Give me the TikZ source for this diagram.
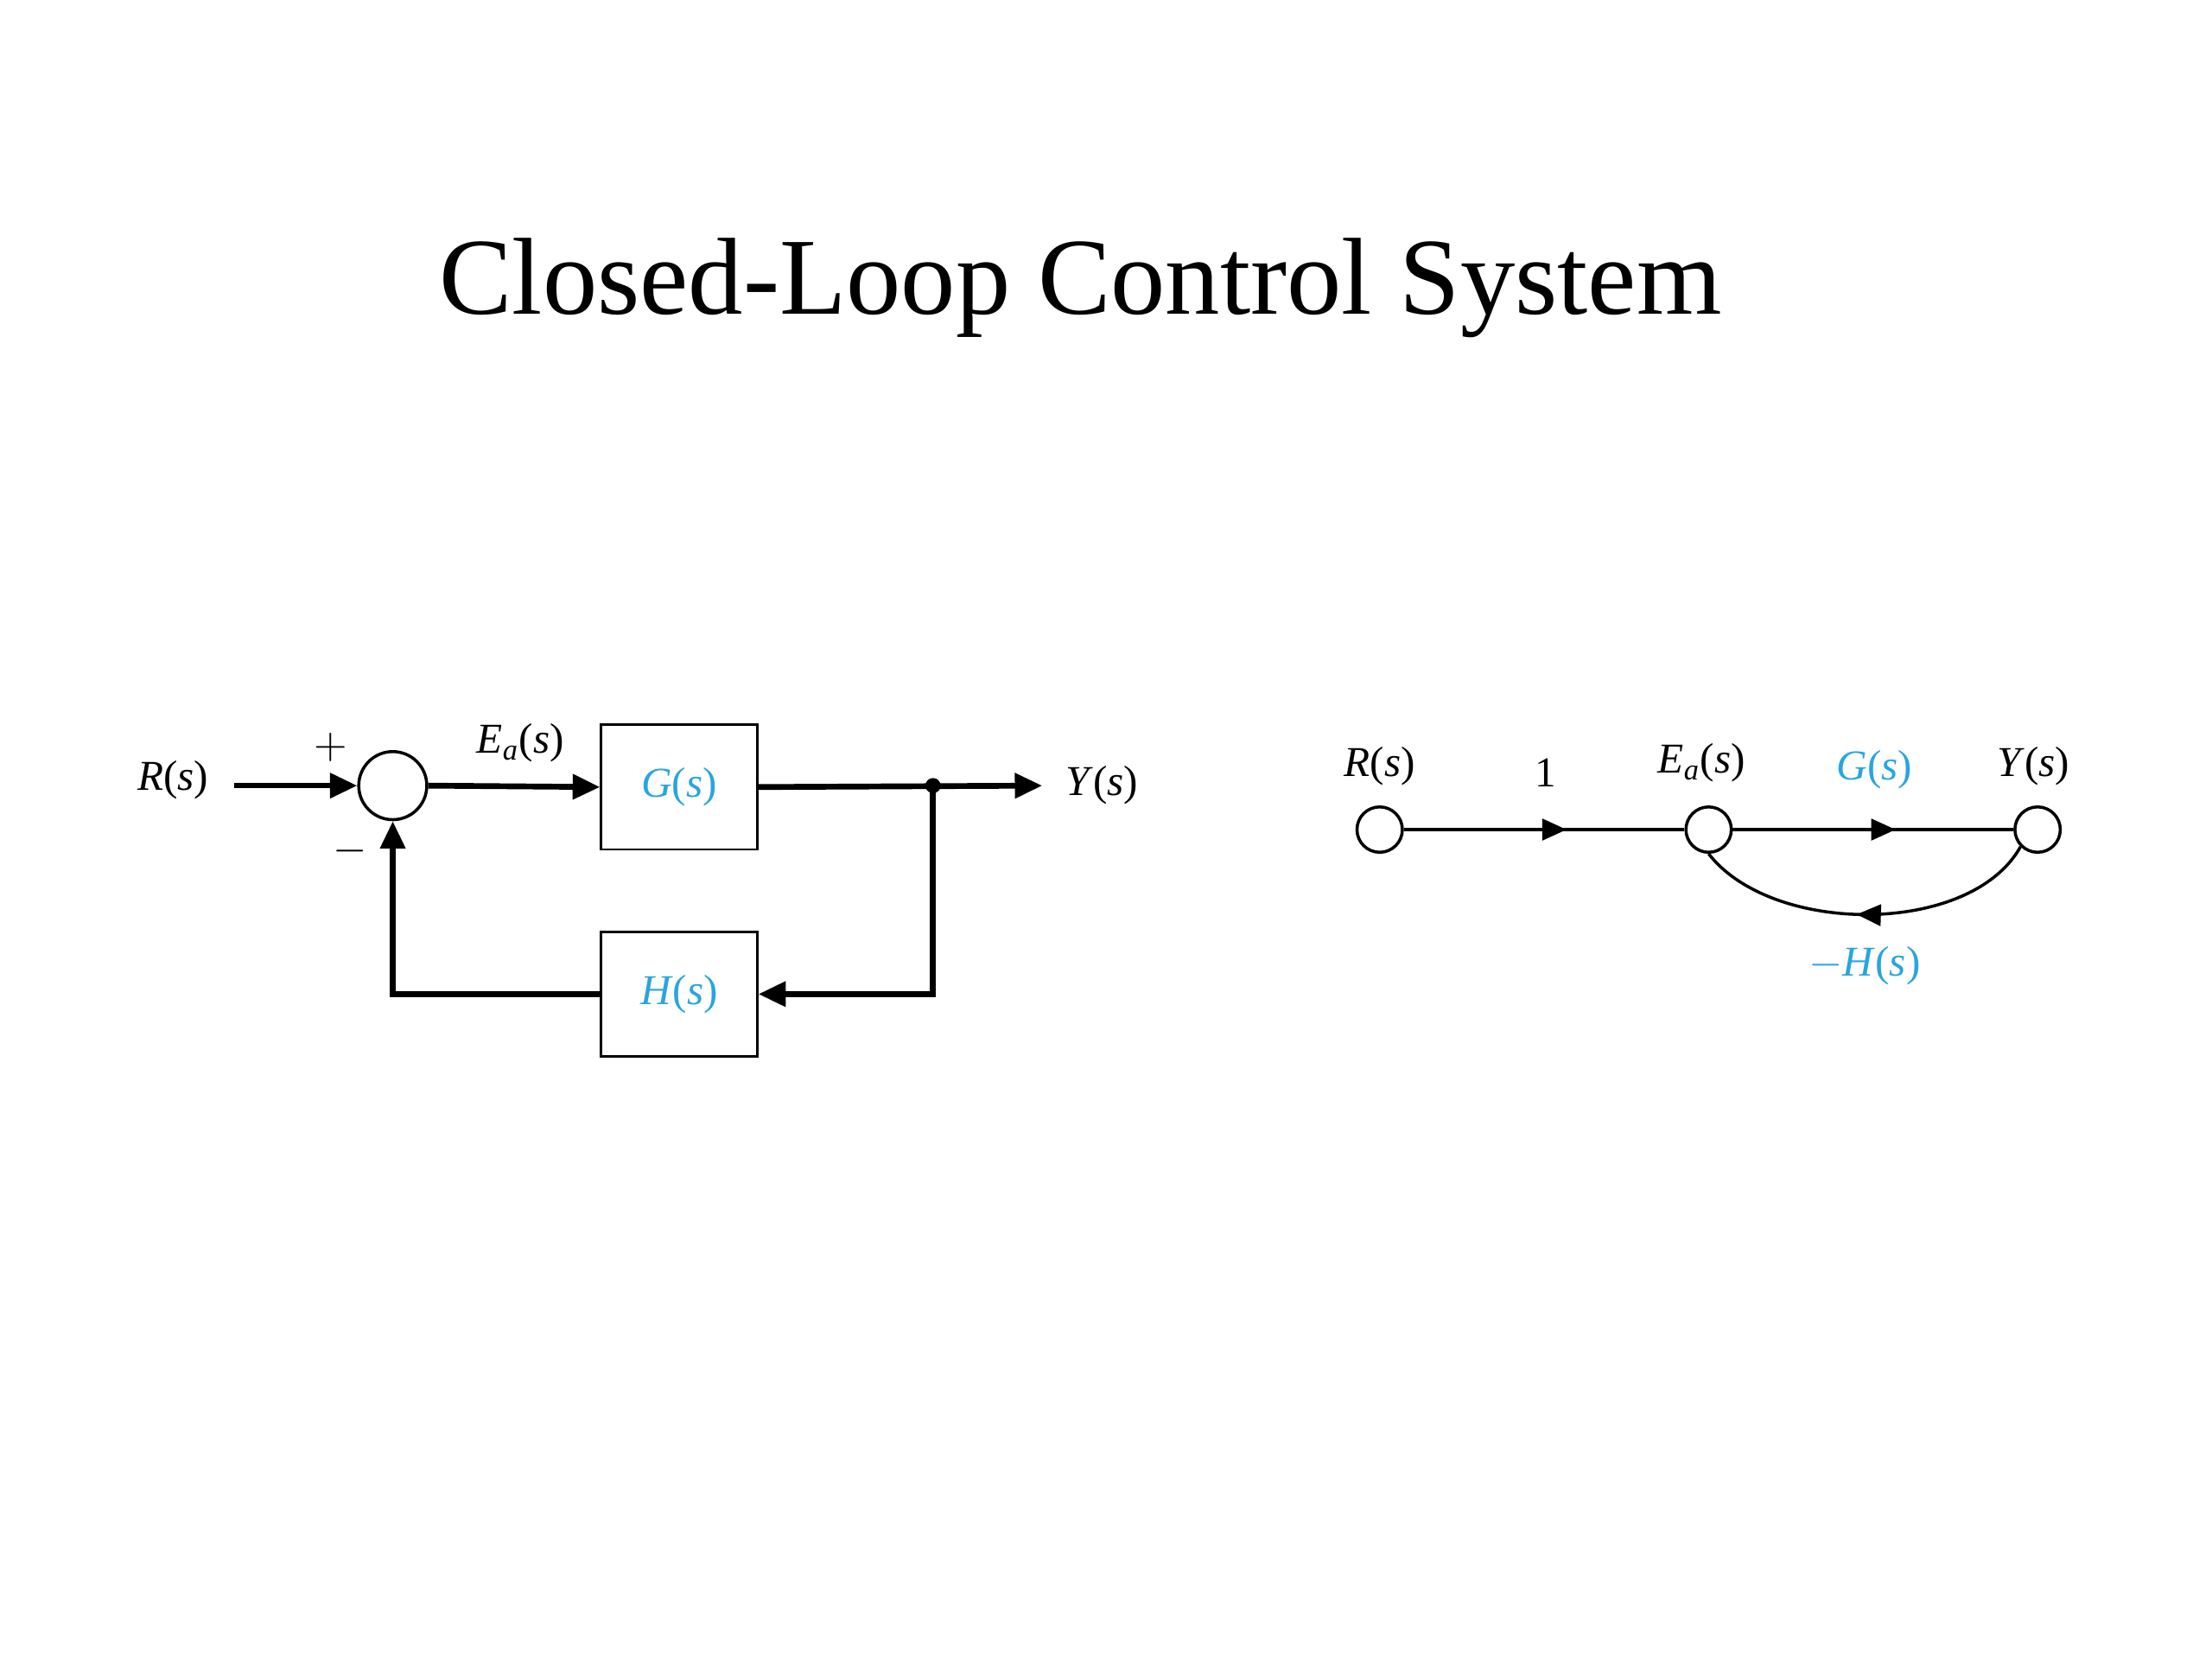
\documentclass[tikz,border=0pt]{standalone}
\usepackage{fontspec}
\setmainfont{Liberation Serif}
\usetikzlibrary{arrows.meta,decorations.markings}
\definecolor{cblue}{RGB}{41,165,222}
\newcommand{\fs}[1]{\textit{#1}(\textit{s})}
\begin{document}
\begin{tikzpicture}[x=0.01641cm,y=-0.01641cm,
  thick line/.style={line width=1.9pt},
  barr/.style={thick line,-{Triangle[length=9pt,width=8pt]}},
  blk/.style={draw,line width=0.8pt,minimum width=110*0.01641cm,minimum height=88*0.01641cm,inner sep=0,font=\fontsize{14}{16}\selectfont,text=cblue},
  lab/.style={font=\fontsize{14}{16}\selectfont},
  snode/.style={circle,draw,line width=1pt,minimum size=32*0.01641cm,inner sep=0},
  midarrow/.style={postaction={decorate},decoration={markings,mark=at position #1 with {\arrow{Triangle[length=8pt,width=7pt]}}}}]
\useasboundingbox (0,0) rectangle (1560,1170);
\node[font=\fontsize{36}{42}\selectfont] (title) at (762,203) {Closed-Loop Control System};
% left block diagram
\node[lab] (R) at (122,550) {\fs{R}};
\node[circle,draw,line width=1pt,minimum size=48*0.01641cm,inner sep=0] (sum) at (277,554) {};
\node[blk] (G) at (479,555) {\fs{G}};
\node[blk] (H) at (479,701) {\fs{H}};
\node[lab] (Y) at (777,554) {\fs{Y}};
\node[lab] (plus) at (233,527) {$+$};
\node[lab] (minus) at (247,600) {$-$};
\node[lab] (Ea) at (367,524) {\textit{E\textsubscript{a}}(\textit{s})};
\coordinate (rin) at (165,554);
\coordinate (yout) at (735,554);
\coordinate (br) at (658,554);
\draw[barr] (rin) -- (sum.west);
\draw[barr] (sum.east) -- (G.west);
\draw[barr] (G.east) -- (yout);
\fill (br) circle (2.5pt);
\draw[barr] (br) |- (H.east);
\draw[barr] (H.west) -| (sum.south);
% right signal flow graph
\node[snode] (n1) at (973,585) {};
\node[snode] (n2) at (1205,585) {};
\node[snode] (n3) at (1437,585) {};
\node[lab] (lR) at (973,540) {\fs{R}};
\node[lab] (l1) at (1090,545) {1};
\node[lab] (lE) at (1200,538) {\textit{E\textsubscript{a}}(\textit{s})};
\node[lab,text=cblue] (lG) at (1322,543) {\fs{G}};
\node[lab] (lY) at (1434,540) {\fs{Y}};
\node[lab,text=cblue] (lH) at (1315,681) {$-$\fs{H}};
\draw[line width=1pt,midarrow=0.58] (n1) -- (n2);
\draw[line width=1pt,midarrow=0.58] (n2) -- (n3);
\draw[line width=1pt,midarrow=0.53] (n3.south west) .. controls (1390,660) and (1250,660) .. (n2.south);
\end{tikzpicture}
\end{document}
